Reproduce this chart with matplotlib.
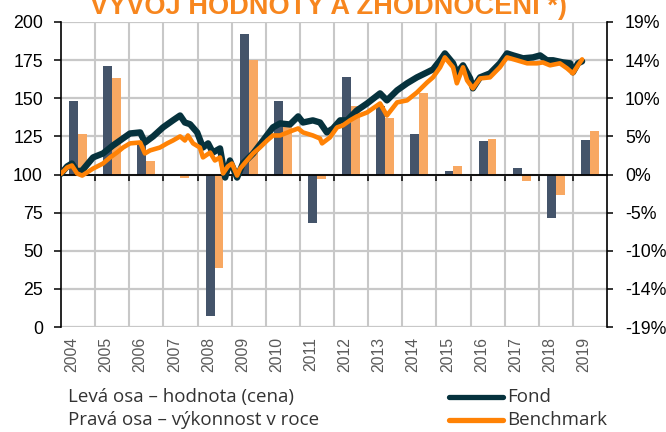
import matplotlib
matplotlib.use("Agg")
import matplotlib.pyplot as plt
import numpy as np
from matplotlib.lines import Line2D

# ---------------- data ----------------
years = list(range(2004, 2020))
year_labels = [str(y) for y in years]

# yearly performance (%) - right axis
fond_ret = [9.2, 13.5, 4.0, -0.1, -17.6, 17.5, 9.2, -6.1, 12.2, 8.5, 5.1, 0.4, 4.2, 0.8, -5.4, 4.3]
bench_ret = [5.0, 12.0, 1.7, -0.45, -11.7, 14.3, 6.4, -0.55, 8.5, 7.1, 10.1, 1.0, 4.45, -0.8, -2.6, 5.4]

# value (price) - left axis
fond_t = [2004.00, 2004.18, 2004.32, 2004.47, 2004.62, 2004.94, 2005.23, 2005.52, 2005.73, 2006.02,
          2006.32, 2006.46, 2006.70, 2006.99, 2007.28, 2007.49, 2007.63, 2007.78, 2007.99, 2008.16,
          2008.31, 2008.45, 2008.66, 2008.81, 2008.95, 2009.16, 2009.33, 2009.63, 2009.92, 2010.21,
          2010.42, 2010.71, 2010.95, 2011.09, 2011.38, 2011.59, 2011.79, 2011.97, 2012.18, 2012.38,
          2012.67, 2012.97, 2013.35, 2013.55, 2013.85, 2014.14, 2014.43, 2014.73, 2014.90, 2015.11,
          2015.25, 2015.49, 2015.60, 2015.78, 2015.99, 2016.07, 2016.28, 2016.57, 2016.86, 2017.07,
          2017.25, 2017.54, 2017.83, 2018.04, 2018.24, 2018.42, 2018.71, 2018.92, 2019.00, 2019.15,
          2019.27]
fond_v = [100.5, 105.3, 107.2, 102.0, 102.6, 111.2, 113.8, 119.0, 122.3, 126.9,
          127.6, 121.0, 125.0, 130.9, 135.5, 138.7, 134.1, 133.0, 127.6, 117.7,
          120.4, 114.4, 117.1, 98.0, 109.2, 98.0, 107.2, 113.8, 122.3, 130.9,
          133.5, 132.8, 138.1, 134.1, 135.5, 134.1, 127.6, 130.2, 135.5, 135.5,
          142.0, 146.6, 153.2, 148.6, 155.2, 159.8, 163.7, 167.0, 168.9, 174.9,
          179.4, 172.9, 166.3, 171.6, 163.0, 156.5, 163.7, 166.3, 172.9, 179.4,
          178.1, 176.2, 176.8, 178.1, 174.9, 174.9, 173.5, 172.9, 167.0, 172.9,
          174.2]

bench_t = [2004.00, 2004.18, 2004.32, 2004.47, 2004.62, 2004.76, 2004.94, 2005.23, 2005.44, 2005.64,
           2005.82, 2006.02, 2006.32, 2006.46, 2006.61, 2006.90, 2007.11, 2007.28, 2007.49, 2007.63,
           2007.72, 2007.87, 2008.07, 2008.16, 2008.37, 2008.51, 2008.66, 2008.75, 2008.89, 2009.01,
           2009.16, 2009.25, 2009.45, 2009.63, 2009.83, 2010.04, 2010.21, 2010.42, 2010.71, 2010.95,
           2011.09, 2011.38, 2011.59, 2011.65, 2011.88, 2012.09, 2012.26, 2012.47, 2012.67, 2012.97,
           2013.35, 2013.55, 2013.85, 2014.14, 2014.43, 2014.73, 2014.90, 2015.11, 2015.25, 2015.49,
           2015.60, 2015.78, 2015.90, 2016.07, 2016.28, 2016.57, 2016.86, 2017.07, 2017.36, 2017.66,
           2017.95, 2018.12, 2018.33, 2018.62, 2018.83, 2019.00, 2019.15, 2019.27]
bench_v = [100.5, 104.6, 105.9, 100.7, 99.3, 101.3, 103.9, 107.2, 111.2, 114.4,
           117.7, 120.4, 121.0, 113.8, 115.8, 117.7, 120.4, 122.3, 125.0, 122.3,
           125.6, 120.4, 117.7, 111.2, 114.4, 109.2, 111.2, 100.7, 105.3, 107.2,
           99.3, 103.9, 109.2, 113.8, 117.7, 122.3, 125.6, 125.6, 128.2, 130.2,
           127.6, 125.6, 123.6, 120.4, 124.3, 130.9, 132.2, 135.5, 138.1, 140.7,
           146.6, 138.7, 147.3, 148.6, 153.8, 160.4, 163.7, 170.3, 176.8, 170.3,
           159.8, 170.3, 161.7, 156.5, 163.0, 163.7, 170.3, 176.8, 174.9, 172.9,
           172.9, 173.5, 171.6, 172.9, 169.6, 166.3, 171.6, 175.5]

left_ticks = [0, 25, 50, 75, 100, 125, 150, 175, 200]
right_ticks = [-19, -14.25, -9.5, -4.75, 0, 4.75, 9.5, 14.25, 19]

# ---------------- style ----------------
C_FOND_BAR = "#44546A"
C_BENCH_BAR = "#F8A862"
C_FOND_LINE = "#06323D"
C_BENCH_LINE = "#FF8205"
C_TITLE = "#F7861E"
C_GRID = "#C8C8C8"
FONT = ["Liberation Sans", "DejaVu Sans"]
FONT2 = ["Open Sans", "DejaVu Sans"]

W, H = 666, 432
fig = plt.figure(figsize=(W / 100, H / 100), dpi=100)
L, R, B, T = 61, 607, 327, 22
rect = [L / W, 1 - B / H, (R - L) / W, (B - T) / H]

# ---- bottom axes: grid + yearly bars (right axis, %) ----
ax = fig.add_axes(rect)
ax.set_xlim(2004, 2020)
ax.set_ylim(-19, 19)
ax.set_axisbelow(True)
ax.set_yticks(right_ticks)
ax.set_yticklabels([f"{round(v):.0f}%" for v in right_ticks], fontfamily=FONT, fontsize=12.8)
ax.set_xticks(years[1:])
ax.xaxis.grid(True, color=C_GRID, linewidth=1.5)
ax.yaxis.grid(True, color=C_GRID, linewidth=1.6)
ax.tick_params(axis="y", left=False, right=True, labelleft=False, labelright=True,
               direction="out", length=4, width=1.1, pad=9, colors="black")
ax.tick_params(axis="x", direction="out", length=4, width=1.1, labelbottom=False)

bw = 0.26
yrs = np.array(years)
ax.bar(yrs + 0.5 - bw / 2, fond_ret, width=bw, color=C_FOND_BAR, zorder=2)
ax.bar(yrs + 0.5 + bw / 2, bench_ret, width=bw, color=C_BENCH_BAR, zorder=2)

ax.spines["top"].set_visible(False)
for s in ("left", "right"):
    ax.spines[s].set_color("black")
    ax.spines[s].set_linewidth(1.2)
ax.spines["bottom"].set_position(("data", 0))
ax.spines["bottom"].set_color("black")
ax.spines["bottom"].set_linewidth(1.3)
ax.spines["bottom"].set_zorder(3)

# ---- top axes: value lines (left axis) ----
ax2 = fig.add_axes(rect)
ax2.patch.set_visible(False)
ax2.set_xlim(2004, 2020)
ax2.set_ylim(0, 200)
ax2.set_yticks(left_ticks)
ax2.set_yticklabels([str(v) for v in left_ticks], fontfamily=FONT, fontsize=12.8)
ax2.tick_params(axis="y", direction="out", length=5, width=1.1, pad=8, colors="black")
for s in ax2.spines.values():
    s.set_visible(False)
ax2.plot(fond_t, fond_v, color=C_FOND_LINE, lw=4.6, solid_joinstyle="round", solid_capstyle="round", zorder=3)
ax2.plot(bench_t, bench_v, color=C_BENCH_LINE, lw=3.3, solid_joinstyle="round", solid_capstyle="round", zorder=4)

# year labels
ax2.set_xticks([y + 0.32 for y in years])
ax2.set_xticklabels(year_labels, rotation=90, fontfamily=FONT, fontsize=11.3, color="#595959")
ax2.tick_params(axis="x", length=0, pad=7)

# title (cut off at the top like the reference)
fig.text(329 / W, 1 - 14 / H, "VÝVOJ HODNOTY A ZHODNOCENÍ *)", ha="center", va="baseline",
         fontfamily=FONT, fontweight="bold", fontsize=19.6, color=C_TITLE)

# legend / notes
fig.text(68 / W, 1 - 397 / H, "Levá osa – hodnota (cena)", ha="left", va="center",
         fontfamily=FONT2, fontsize=13.5, color="#333333")
fig.text(68 / W, 1 - 420 / H, "Pravá osa – výkonnost v roce", ha="left", va="center",
         fontfamily=FONT2, fontsize=13.5, color="#333333")
for yy, col, lab in ((397, C_FOND_LINE, "Fond"), (420, C_BENCH_LINE, "Benchmark")):
    fig.add_artist(Line2D([449 / W, 503 / W], [1 - yy / H, 1 - yy / H], transform=fig.transFigure,
                          color=col, lw=3.8, solid_capstyle="round"))
    fig.text(507 / W, 1 - yy / H, lab, ha="left", va="center", fontfamily=FONT2, fontsize=13.5, color="#333333")

fig.savefig("out.png", dpi=100)
